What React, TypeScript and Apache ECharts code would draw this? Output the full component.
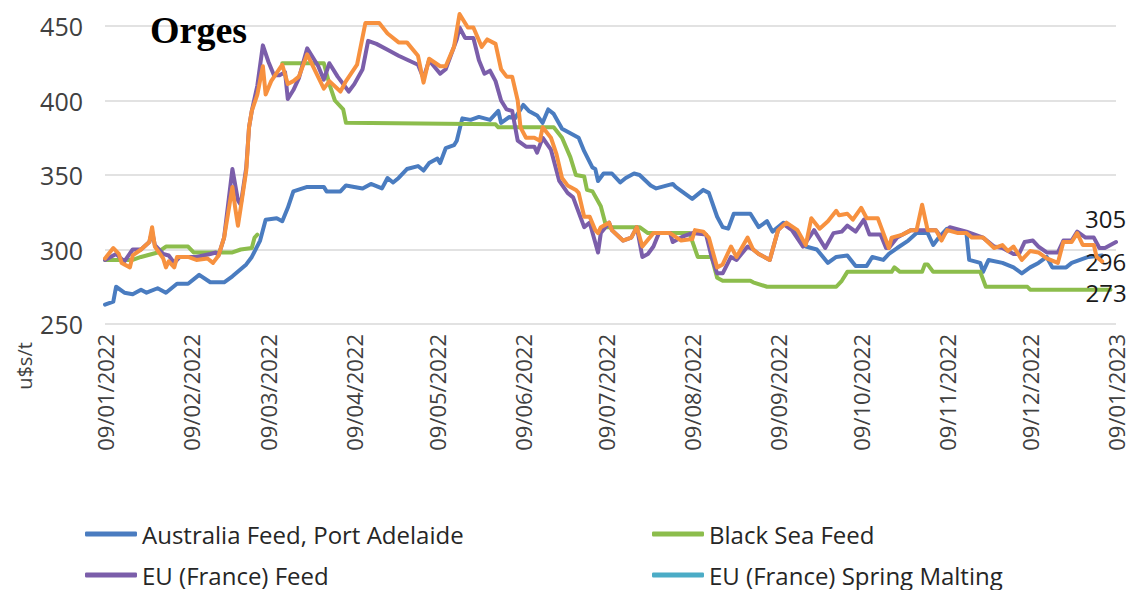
import React, { useEffect, useRef } from "react";
import * as echarts from "echarts";

// x values are day offsets from 09/01/2022 (day 0) to 09/01/2023 (day 365)
const yTicks = [250, 300, 350, 400, 450];
const legendNames = [
  "Australia Feed, Port Adelaide",
  "Black Sea Feed",
  "EU (France) Feed",
  "EU (France) Spring Malting",
];

const australiaFeed: [number, number][] = [
  [0,263],[3,265],[4,275],[7,271],[10,270],[13,273],[15,271],[19,274],[22,271],[26,277],[30,277],[34,283],[38,278],[43,278],[46,282],[51,290],[53,295],[56,306],[58,320],[62,321],[64,319],[66,328],[68,339],[73,342],[79,342],[80,339],[85,339],[87,343],[93,341],[96,344],[100,341],[102,348],[104,345],[106,348],[109,354],[113,356],[115,353],[117,358],[120,361],[121,358],[123,368],[126,370],[127,373],[129,388],[132,387],[135,389],[139,387],[142,393],[143,385],[146,389],[148,388],[151,397],[153,393],[156,390],[158,385],[160,394],[162,391],[165,381],[168,378],[171,375],[173,366],[176,355],[177,354],[178,346],[180,351],[183,351],[186,345],[188,348],[191,351],[193,350],[197,343],[199,341],[201,342],[205,344],[206,342],[212,334],[216,340],[218,338],[221,322],[223,315],[225,314],[227,324],[233,324],[236,315],[239,319],[241,312],[245,318],[248,314],[253,302],[257,300],[261,291],[264,295],[268,296],[271,289],[275,289],[277,295],[281,293],[283,297],[286,301],[290,306],[293,311],[297,311],[299,303],[301,308],[304,314],[308,313],[311,311],[312,293],[316,291],[317,285],[319,293],[324,291],[328,288],[331,284],[334,288],[337,291],[340,295],[342,288],[347,288],[349,291],[355,295],[360,296]
];

const blackSeaFeed: [number, number | null][] = [
  [0,293],[10,293],[13,295],[19,298],[22,302],[30,302],[32,298],[46,298],[49,300],[53,301],[54,308],[55,310],[56,null],[64,425],[79,425],[81,411],[83,400],[86,394],[87,385],[141,384],[142,382],[162,382],[165,375],[168,362],[170,350],[173,349],[174,340],[176,339],[179,329],[181,315],[193,315],[196,311],[211,311],[214,295],[219,295],[221,281],[223,279],[233,279],[234,278],[239,275],[264,275],[266,279],[268,285],[284,285],[285,288],[287,285],[295,285],[296,290],[297,290],[299,285],[316,285],[318,275],[333,275],[334,273],[363,273]
];

const euFranceFeed: [number, number][] = [
  [0,293],[4,297],[7,292],[10,300],[13,300],[16,305],[17,312],[18,303],[21,297],[23,296],[25,291],[27,295],[33,295],[38,297],[40,298],[41,296],[43,308],[46,354],[48,333],[49,330],[51,355],[52,382],[53,393],[55,410],[57,437],[59,426],[61,417],[63,417],[65,419],[66,401],[68,407],[70,415],[73,435],[77,423],[79,414],[81,425],[84,416],[88,406],[90,411],[93,421],[95,440],[98,438],[102,434],[106,430],[113,424],[115,415],[117,427],[121,418],[123,421],[127,441],[128,449],[130,442],[133,442],[135,427],[137,418],[139,420],[141,413],[143,400],[145,394],[147,393],[149,373],[152,369],[155,369],[156,365],[158,375],[161,367],[164,346],[167,338],[169,335],[173,315],[175,318],[178,298],[179,311],[182,318],[183,313],[187,306],[190,308],[192,315],[194,295],[196,297],[198,302],[200,311],[204,311],[205,305],[209,309],[212,311],[217,310],[219,295],[221,284],[223,284],[226,295],[228,293],[232,302],[234,300],[236,297],[240,293],[243,313],[245,317],[248,313],[252,302],[256,313],[260,301],[263,311],[266,312],[268,316],[271,312],[274,320],[276,310],[280,310],[282,301],[283,301],[286,308],[288,310],[291,313],[293,313],[297,313],[300,313],[302,308],[305,315],[311,312],[317,308],[321,302],[324,301],[328,297],[330,297],[332,305],[335,306],[337,302],[340,298],[344,298],[346,306],[349,306],[351,312],[354,308],[357,308],[359,301],[361,301],[365,305]
];

const euFranceOrange: [number, number][] = [
  [0,294],[3,301],[5,297],[6,291],[9,288],[10,296],[13,300],[16,305],[17,315],[18,302],[21,294],[22,288],[23,292],[25,288],[26,295],[30,295],[33,293],[37,294],[39,291],[41,296],[43,308],[46,342],[47,328],[48,316],[49,328],[51,353],[52,382],[53,393],[55,404],[57,423],[58,404],[60,413],[64,424],[66,411],[68,413],[70,416],[73,431],[79,408],[81,413],[85,406],[87,413],[91,424],[94,452],[99,452],[102,445],[106,439],[109,439],[113,430],[115,412],[117,428],[121,423],[123,423],[126,436],[128,458],[131,449],[133,449],[136,436],[138,441],[141,438],[143,421],[145,416],[147,416],[149,400],[150,382],[152,375],[155,375],[157,373],[158,382],[161,375],[163,364],[165,348],[167,343],[170,340],[171,338],[173,322],[175,322],[177,313],[178,311],[179,315],[182,318],[183,313],[187,306],[190,308],[192,315],[194,302],[198,311],[204,311],[208,306],[212,307],[213,313],[216,312],[218,308],[221,288],[223,290],[226,302],[228,295],[232,308],[234,300],[236,297],[240,293],[243,313],[246,318],[250,313],[253,303],[255,321],[258,314],[261,319],[264,326],[265,323],[268,324],[270,320],[273,328],[275,321],[279,321],[280,316],[283,301],[284,308],[288,310],[291,313],[293,313],[295,330],[297,313],[300,313],[302,306],[304,313],[308,311],[311,311],[313,308],[317,308],[321,301],[324,303],[326,299],[328,302],[331,293],[334,299],[337,298],[340,294],[344,291],[346,305],[349,305],[351,311],[353,303],[357,303],[358,295],[360,292]
];

function buildDates(): string[] {
  const start = Date.UTC(2022, 0, 9);
  const out: string[] = [];
  for (let i = 0; i <= 365; i++) {
    const d = new Date(start + i * 86400000);
    const dd = String(d.getUTCDate()).padStart(2, "0");
    const mm = String(d.getUTCMonth() + 1).padStart(2, "0");
    out.push(`${dd}/${mm}/${d.getUTCFullYear()}`);
  }
  return out;
}

const FONT = "Open Sans";
const TXT = "#404040";

export default function App() {
  const ref = useRef<HTMLDivElement>(null);
  useEffect(() => {
    if (!ref.current) return;
    const chart = echarts.init(ref.current, undefined, { renderer: "svg" });
    const dates = buildDates();
    const lineSeries = (name: string, color: string, data: any[], z: number, endLabel?: any) => ({
      name,
      type: "line",
      data,
      showSymbol: false,
      symbol: "none",
      clip: false,
      z,
      lineStyle: { color, width: 4, join: "round", cap: "round" },
      itemStyle: { color },
      endLabel: endLabel
        ? {
            show: true,
            formatter: (p: any) => String(p.value[1]),
            fontFamily: FONT,
            fontSize: 24,
            color: "#1a1a1a",
            distance: 0,
            offset: endLabel,
          }
        : undefined,
    });
    const legendPos = [
      { left: 85, top: 522 },
      { left: 652, top: 522 },
      { left: 85, top: 563 },
      { left: 652, top: 563 },
    ];
    const legends = legendNames.map((n, i) => ({
      ...legendPos[i],
      orient: "horizontal",
      padding: 0,
      itemWidth: 52,
      itemHeight: 5,
      icon: "roundRect",
      data: [n],
      textStyle: { fontFamily: FONT, fontSize: 24, lineHeight: 24, color: "#262626" },
    }));
    chart.setOption({
      animation: false,
      backgroundColor: "#ffffff",
      title: {
        text: "Orges",
        left: 145,
        top: 6,
        textStyle: { fontFamily: "Liberation Serif", fontWeight: "bold", fontSize: 38, color: "#000" },
      },
      grid: { left: 105, right: 19, top: 26, bottom: 266 },
      legend: legends,
      xAxis: {
        type: "category",
        data: dates,
        boundaryGap: false,
        axisLine: { show: false },
        axisTick: { show: false },
        splitLine: { show: false },
        axisLabel: {
          interval: (_i: number, v: string) => v.startsWith("09/"),
          rotate: 90,
          margin: 10,
          fontFamily: FONT,
          fontSize: 22,
          color: TXT,
          showMinLabel: true,
          showMaxLabel: true,
        },
      },
      yAxis: {
        type: "value",
        min: yTicks[0],
        max: yTicks[yTicks.length - 1],
        interval: 50,
        axisLine: { show: false },
        axisTick: { show: false },
        splitLine: { lineStyle: { color: "#d9d9d9", width: 1.5 } },
        axisLabel: { fontFamily: FONT, fontSize: 25, color: TXT, margin: 22 },
      },
      graphic: [
        {
          type: "text",
          x: 24,
          y: 366,
          rotation: Math.PI / 2,
          style: {
            text: "u$s/t",
            fontFamily: FONT,
            fontSize: 20,
            fill: TXT,
            align: "center",
            verticalAlign: "middle",
          },
        },
      ],
      series: [
        lineSeries("Australia Feed, Port Adelaide", "#4a7cc0", australiaFeed, 2, [-17, 6]),
        lineSeries("Black Sea Feed", "#8cbd4c", blackSeaFeed, 3, [-25, 3]),
        lineSeries("EU (France) Feed", "#7b5eaa", euFranceFeed, 4, [-31, -24]),
        lineSeries("EU (France) Spring Malting", "#4bacc6", [], 1),
        lineSeries("EU (France) Malting", "#f7913f", euFranceOrange, 5),
      ],
    });
    return () => chart.dispose();
  }, []);
  return (
    <div
      ref={ref}
      style={{ position: "fixed", left: 0, top: 0, width: 1135, height: 590 }}
    />
  );
}
